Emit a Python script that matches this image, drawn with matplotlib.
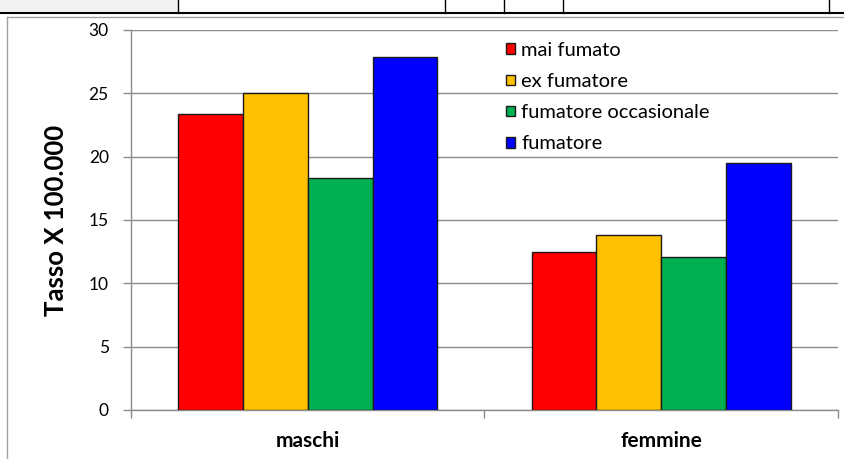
import matplotlib
matplotlib.use("Agg")
import matplotlib.pyplot as plt
from matplotlib.lines import Line2D
from matplotlib.patches import Rectangle
import numpy as np

plt.rcParams['font.family'] = ['Lato', 'DejaVu Sans']

categories = ["maschi", "femmine"]
series_names = ["mai fumato", "ex fumatore", "fumatore occasionale", "fumatore"]
mai_fumato = [23.4, 12.5]
ex_fumatore = [25.0, 13.8]
fumatore_occasionale = [18.3, 12.1]
fumatore = [27.9, 19.5]
series_values = [mai_fumato, ex_fumatore, fumatore_occasionale, fumatore]
colors = ["#FF0000", "#FFC000", "#00B050", "#0000FF"]
y_ticks = [0, 5, 10, 15, 20, 25, 30]
y_label = "Tasso X 100.000"

W, H = 845, 459
fig = plt.figure(figsize=(W / 100, H / 100), dpi=100)
ax = fig.add_axes([131 / W, 49 / H, (838 - 131) / W, (410 - 30) / H])

x = np.arange(len(categories))
bw = 0.1835
for i, (name, vals, c) in enumerate(zip(series_names, series_values, colors)):
    ax.bar(x + (i - 1.5) * bw, vals, width=bw, color=c, edgecolor="#1a1a1a",
           linewidth=1.0, label=name, zorder=3)

grid_c = "#8c8c8c"
ax.set_ylim(0, 30)
ax.set_xlim(-0.5, len(categories) - 0.5)
ax.set_yticks(y_ticks)
ax.set_yticklabels([str(t) for t in y_ticks], fontsize=12.5)
ax.yaxis.grid(True, color=grid_c, linewidth=1.0, zorder=0)
ax.set_axisbelow(True)

ax.set_xticks(np.arange(-0.5, len(categories), 1.0))
ax.set_xticklabels([])
ax.set_xticks(x, minor=True)
ax.set_xticklabels(categories, minor=True, fontsize=15, fontweight="bold")
ax.tick_params(axis="x", which="minor", length=0, pad=15)
ax.tick_params(axis="x", which="major", length=6, color=grid_c, width=1)
ax.tick_params(axis="y", length=6, color=grid_c, width=1, pad=10)

for s in ["top", "right"]:
    ax.spines[s].set_visible(False)
for s in ["left", "bottom"]:
    ax.spines[s].set_color(grid_c)
    ax.spines[s].set_linewidth(1.0)

ax.set_ylabel(y_label, fontsize=18.5, fontweight="bold", labelpad=15)

leg = ax.legend(loc="upper left", bbox_to_anchor=(506 / W, 1 - 42 / H),
                bbox_transform=fig.transFigure, frameon=False, fontsize=14.5,
                handlelength=0.45, handleheight=0.45, handletextpad=0.3,
                labelspacing=0.7, borderpad=0, borderaxespad=0)

# sheet decorations (chart area border and spreadsheet cell lines)
def fx(px):
    return px / W

def fy(py):
    return 1 - py / H

fig.add_artist(Rectangle((0, fy(13)), fx(178), 13 / H, transform=fig.transFigure,
                         facecolor="#f2f2f2", edgecolor="none"))
fig.add_artist(Line2D([0, 1], [fy(13), fy(13)], transform=fig.transFigure,
                      color="black", linewidth=1.5))
for px in [178, 445, 504, 563, 829]:
    fig.add_artist(Line2D([fx(px), fx(px)], [fy(0), fy(13)], transform=fig.transFigure,
                          color="black", linewidth=1.0))
fig.add_artist(Line2D([fx(7), 1], [fy(16.5), fy(16.5)], transform=fig.transFigure,
                      color="#a0a0a0", linewidth=1.0))
fig.add_artist(Line2D([fx(7), fx(7)], [0, fy(16.5)], transform=fig.transFigure,
                      color="#a0a0a0", linewidth=1.0))

fig.savefig("out.png", dpi=100)
